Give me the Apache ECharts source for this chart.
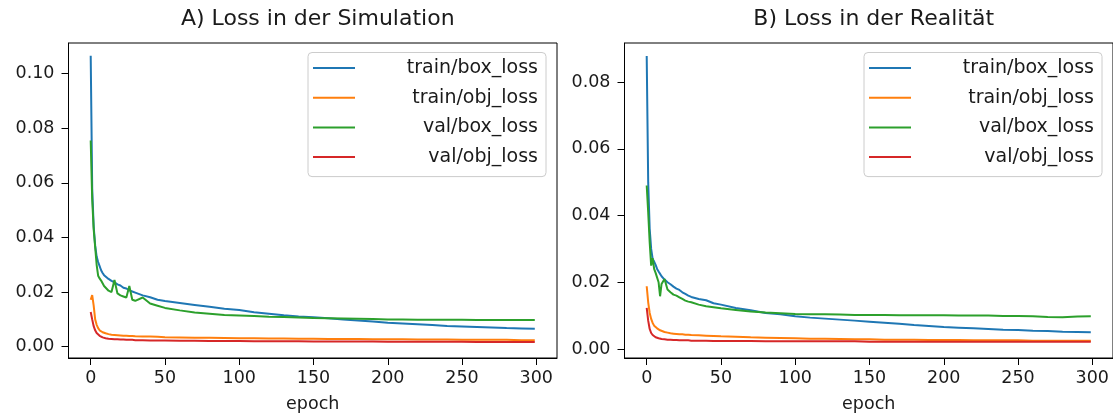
<!DOCTYPE html>
<html>
<head>
<meta charset="utf-8">
<script src="https://cdn.jsdelivr.net/npm/echarts@6/dist/echarts.min.js"></script>
<style>
html,body{margin:0;padding:0;background:#fff;}
#chart{width:1113px;height:418px;}
</style>
</head>
<body>
<div id="chart"></div>
<script>
const epochs = [0,1,2,3,4,5,6,7,8,9,10,12,14,16,18,20,22,24,26,28,30,35,40,45,50,60,70,80,90,100,110,120,130,140,150,160,170,180,190,200,210,220,230,240,250,260,270,280,290,299];
const seriesNames = ['train/box_loss','train/obj_loss','val/box_loss','val/obj_loss'];
const titles = ['A) Loss in der Simulation','B) Loss in der Realität'];
const xTicks = [0,50,100,150,200,250,300];
const yTicksA = [0,0.02,0.04,0.06,0.08,0.10];
const yTicksB = [0,0.02,0.04,0.06,0.08];

const simTrainBox = [0.1065,0.058,0.044,0.037,0.033,0.031,0.0295,0.028,0.027,0.0262,0.0257,
  0.0248,0.0241,0.0236,0.0228,0.0224,0.0216,0.0213,0.0206,0.0202,0.0198,
  0.0188,0.0181,0.0172,0.0167,
  0.0160,0.0153,0.0146,0.0139,0.0134,0.0126,0.0121,0.0115,0.0111,0.0108,0.0104,0.0100,0.0096,0.0092,0.0088,0.0085,0.0082,0.0079,0.0076,0.0074,0.0072,0.0070,0.0068,0.0067,
  0.0066];
const simTrainObj = [0.0172,0.0189,0.0150,0.0100,0.0080,0.0068,0.0060,0.0056,0.0053,0.0051,0.0049,
  0.0046,0.0044,0.0043,0.0042,0.0041,0.0040,0.0040,0.0039,0.0039,0.0038,
  0.0037,0.0037,0.0036,0.0035,
  0.0034,0.0033,0.0033,0.0032,0.0031,0.0031,0.0030,0.0030,0.0029,0.0029,0.0028,0.0028,0.0028,0.0027,0.0027,0.0027,0.0026,0.0026,0.0026,0.0025,0.0025,0.0025,0.0025,0.0024,
  0.0024];
const simValBox = [0.0755,0.054,0.043,0.0365,0.030,0.026,0.0250,0.0242,0.0236,0.0222,0.0215,
  0.0205,0.0200,0.0244,0.0195,0.0188,0.0184,0.0180,0.0222,0.0172,0.0168,
  0.0180,0.0158,0.0150,0.0142,
  0.0133,0.0125,0.0121,0.0116,0.0114,0.0112,0.0110,0.0109,0.0107,0.0105,0.0104,0.0103,0.0102,0.0101,0.0100,0.0100,0.0099,0.0099,0.0099,0.0099,0.0098,0.0098,0.0098,0.0098,
  0.0098];
const simValObj = [0.0127,0.0100,0.0075,0.0060,0.0050,0.0044,0.0040,0.0036,0.0034,0.0032,0.0031,
  0.0029,0.0028,0.0027,0.0027,0.0026,0.0026,0.0025,0.0025,0.0025,0.0024,
  0.0024,0.0023,0.0023,0.0023,
  0.0022,0.0022,0.0021,0.0021,0.0021,0.0020,0.0020,0.0020,0.0020,0.0019,0.0019,0.0019,0.0019,0.0019,0.0018,0.0018,0.0018,0.0018,0.0018,0.0018,0.0017,0.0017,0.0017,0.0017,
  0.0017];

const realTrainBox = [0.0878,0.050,0.036,0.030,0.027,0.0262,0.0252,0.0240,0.0232,0.0225,0.0218,
  0.0208,0.0200,0.0194,0.0187,0.0181,0.0177,0.0170,0.0165,0.0160,0.0156,
  0.0150,0.0146,0.0137,0.0133,
  0.0123,0.0116,0.0108,0.0104,0.0098,0.0094,0.0091,0.0088,0.0085,0.0082,0.0079,0.0076,0.0072,0.0069,0.0066,0.0064,0.0062,0.0060,0.0058,0.0057,0.0055,0.0054,0.0052,0.0051,
  0.0050];
const realTrainObj = [0.0188,0.0140,0.0108,0.0090,0.0078,0.0070,0.0066,0.0062,0.0059,0.0056,0.0054,
  0.0051,0.0049,0.0047,0.0046,0.0045,0.0044,0.0044,0.0043,0.0043,0.0042,
  0.0041,0.0040,0.0039,0.0038,
  0.0037,0.0035,0.0034,0.0033,0.0032,0.0031,0.0031,0.0030,0.0029,0.0029,0.0028,0.0028,0.0028,0.0027,0.0027,0.0027,0.0026,0.0026,0.0026,0.0026,0.0025,0.0025,0.0025,0.0025,
  0.0025];
const realValBox = [0.0490,0.041,0.032,0.025,0.0272,0.0240,0.0228,0.0225,0.0200,0.0158,0.0195,
  0.0210,0.0178,0.0170,0.0163,0.0160,0.0155,0.0150,0.0145,0.0142,0.0140,
  0.0133,0.0128,0.0125,0.0122,
  0.0117,0.0112,0.0109,0.0107,0.0105,0.0104,0.0104,0.0103,0.0102,0.0102,0.0102,0.0101,0.0101,0.0101,0.0101,0.0100,0.0100,0.0100,0.0099,0.0099,0.0098,0.0096,0.0095,0.0097,
  0.0098];
const realValObj = [0.0123,0.0085,0.0060,0.0048,0.0042,0.0038,0.0035,0.0033,0.0032,0.0031,0.0030,
  0.0029,0.0028,0.0028,0.0027,0.0027,0.0026,0.0026,0.0026,0.0026,0.0025,
  0.0025,0.0025,0.0024,0.0024,
  0.0024,0.0024,0.0023,0.0023,0.0023,0.0023,0.0023,0.0023,0.0023,0.0022,0.0022,0.0022,0.0022,0.0022,0.0022,0.0022,0.0022,0.0022,0.0022,0.0022,0.0022,0.0022,0.0022,0.0022,
  0.0022];

const colors = ['#1f77b4','#ff7f0e','#2ca02c','#d62728'];
const FONT = 'DejaVu Sans';
const TXT = '#1a1a1a';
const TICKFS = 17.5;

const simSets = [simTrainBox, simTrainObj, simValBox, simValObj];
const realSets = [realTrainBox, realTrainObj, realValBox, realValObj];

const chart = echarts.init(document.getElementById('chart'), null, {renderer:'canvas'});

function pairs(arr){ return epochs.map((e,i)=>[e, arr[i]]); }

const grids = [
  {left:68.5, top:43, width:488.5, height:315},
  {left:624.5, top:43, width:488.5, height:315}
];

function xAxisFor(idx){
  return {
    type:'value', gridIndex:idx, min:-14.95, max:313.95,
    name:'epoch', nameLocation:'middle', nameGap:37,
    nameTextStyle:{fontFamily:FONT, fontSize:TICKFS, color:TXT},
    axisLine:{show:true, onZero:false, lineStyle:{color:'#000', width:1}},
    axisTick:{show:true, length:7, inside:false, customValues:xTicks, lineStyle:{color:'#000', width:1}},
    axisLabel:{show:true, customValues:xTicks, margin:11, fontFamily:FONT, fontSize:TICKFS, color:TXT},
    splitLine:{show:false}
  };
}
function yAxisFor(idx, mn, mx, ticks){
  return {
    type:'value', gridIndex:idx, min:mn, max:mx,
    axisLine:{show:true, onZero:false, lineStyle:{color:'#000', width:1}},
    axisTick:{show:true, length:7, inside:false, customValues:ticks, lineStyle:{color:'#000', width:1}},
    axisLabel:{show:true, customValues:ticks, margin:14, fontFamily:FONT, fontSize:TICKFS, color:TXT,
      formatter:v=>v.toFixed(2)},
    splitLine:{show:false}
  };
}

function legendFor(left){
  return {
    orient:'vertical', left:left, top:52.5,
    data:seriesNames,
    icon:'rect', itemWidth:42, itemHeight:2, itemGap:10.7,
    padding:[6,8,10,5],
    backgroundColor:'rgba(255,255,255,0.8)',
    borderColor:'#cccccc', borderWidth:1, borderRadius:4,
    formatter: n => '{a|' + n + '}',
    textStyle:{rich:{a:{width:178, align:'right', fontSize:19, lineHeight:22, fontFamily:FONT, color:TXT}}},
    selectedMode:false
  };
}

const series = [];
[simSets, realSets].forEach((sets, gi)=>{
  sets.forEach((arr, si)=>{
    series.push({
      name:seriesNames[si], type:'line',
      xAxisIndex:gi, yAxisIndex:gi,
      data:pairs(arr), showSymbol:false, symbol:'none',
      lineStyle:{width:2, color:colors[si]}, itemStyle:{color:colors[si]},
      animation:false
    });
  });
});

chart.setOption({
  animation:false,
  backgroundColor:'#fff',
  title:[
    {text:titles[0], left:312.75, top:3, textAlign:'center',
     textStyle:{fontFamily:FONT, fontSize:22, fontWeight:'normal', color:TXT}},
    {text:titles[1], left:868.75, top:3, textAlign:'center',
     textStyle:{fontFamily:FONT, fontSize:22, fontWeight:'normal', color:TXT}}
  ],
  grid:grids.map(g=>Object.assign({show:true, borderColor:'#000', borderWidth:1, backgroundColor:'transparent', containLabel:false}, g)),
  xAxis:[xAxisFor(0), xAxisFor(1)],
  yAxis:[yAxisFor(0,-0.00414,0.1112,yTicksA), yAxisFor(1,-0.0027,0.0917,yTicksB)],
  legend:[legendFor(308), legendFor(864)],
  series:series
});
</script>
</body>
</html>
